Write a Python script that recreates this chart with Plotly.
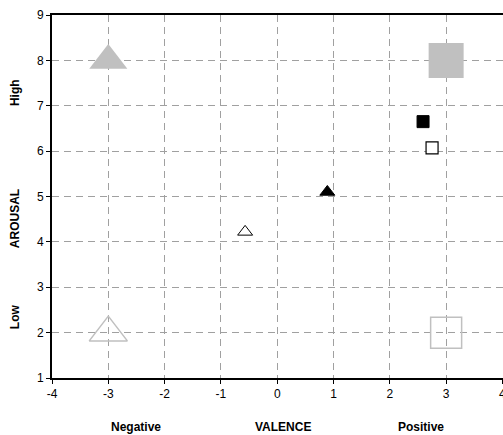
import plotly.graph_objects as go

# data
labels = ["neg-high", "pos-high", "pos-high-obs", "pos-low-obs", "neg-high-obs", "neg-low-obs", "neg-low", "pos-low"]
valence = [-3, 3, 2.59, 2.75, 0.89, -0.57, -3, 3]
arousal = [8, 8, 6.65, 6.07, 5.1, 4.22, 2, 2]
symbols = ["triangle-up", "square", "square", "square", "triangle-up", "triangle-up", "triangle-up-open", "square-open"]
sizes = [33, 35, 12, 12, 13, 13, 33, 31]
fills = ["#C0C0C0", "#C0C0C0", "#000000", "#FFFFFF", "#000000", "#FFFFFF", "#C0C0C0", "#C0C0C0"]
lines = ["#C0C0C0", "#C0C0C0", "#000000", "#000000", "#000000", "#000000", "#C0C0C0", "#C0C0C0"]
line_w = [0, 0, 1, 1.2, 1, 1, 1.5, 1.5]

xticks = [-4, -3, -2, -1, 0, 1, 2, 3, 4]
yticks = [1, 2, 3, 4, 5, 6, 7, 8, 9]

x_side_labels = [("Negative", -2.5), ("VALENCE", 0.1), ("Positive", 2.55)]
y_side_labels = [("High", 7.28), ("AROUSAL", 4.5), ("Low", 2.34)]

fig = go.Figure()
for i in range(len(valence)):
    fig.add_trace(go.Scatter(
        x=[valence[i]], y=[arousal[i]], mode="markers", name=labels[i],
        marker=dict(symbol=symbols[i], size=sizes[i], color=fills[i],
                    line=dict(color=lines[i], width=line_w[i])),
        showlegend=False, hoverinfo="skip"))

font = dict(family="Liberation Sans, Arial, sans-serif", size=12, color="#000")

fig.update_xaxes(range=[-4, 4.01], tickvals=xticks, ticktext=[str(v) for v in xticks],
                 showgrid=True, gridcolor="#A0A0A0", griddash="7px,5px", gridwidth=1,
                 showline=True, linecolor="#000", linewidth=2, mirror=True,
                 ticks="outside", ticklen=4, tickcolor="#000", tickfont=font,
                 ticklabeloverflow="allow",
                 zeroline=False, automargin=False)
fig.update_yaxes(range=[1, 9], tickvals=yticks, ticktext=[str(v) for v in yticks],
                 showgrid=True, gridcolor="#A0A0A0", griddash="7px,5px", gridwidth=1,
                 showline=True, linecolor="#000", linewidth=2, mirror=True,
                 ticks="outside", ticklen=4, tickcolor="#000", tickfont=font,
                 zeroline=False, automargin=False)

bold = dict(family="Liberation Sans, Arial, sans-serif", size=12, color="#000")
annotations = []
for txt, xv in x_side_labels:
    annotations.append(dict(text="<b>%s</b>" % txt, x=xv, xref="x", y=0, yref="paper",
                            yshift=-49, showarrow=False, font=bold, xanchor="center", yanchor="middle"))
for txt, yv in y_side_labels:
    annotations.append(dict(text="<b>%s</b>" % txt, y=yv, yref="y", x=0, xref="paper",
                            xshift=-37, showarrow=False, font=bold, textangle=-90,
                            xanchor="center", yanchor="middle"))

fig.update_layout(width=503, height=435, margin=dict(l=52, r=0, t=15, b=57),
                  paper_bgcolor="#FFFFFF", plot_bgcolor="#FFFFFF",
                  annotations=annotations, font=font)

fig.write_html("out.html", config={"displayModeBar": False},
               post_script="document.body.style.margin='0';"
                           "document.documentElement.style.overflow='hidden';"
                           "document.body.style.overflow='hidden';")
